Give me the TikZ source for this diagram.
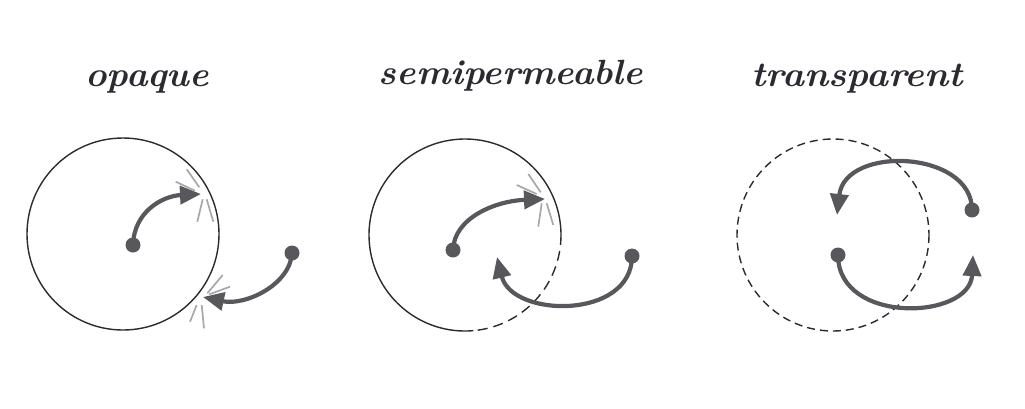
\documentclass[tikz,border=0pt]{standalone}
\usepackage{graphicx}
\usetikzlibrary{arrows.meta}
\definecolor{ink}{HTML}{2A2A30}
\definecolor{arrowgray}{HTML}{58585C}
\definecolor{raygray}{HTML}{A8A8AC}
\tikzset{
  title/.style={anchor=base, text=ink, font=\fontsize{35}{40}\selectfont\bfseries\itshape, inner sep=0pt},
  ring/.style={draw=ink, line width=1.4pt},
  dashring/.style={draw=ink, line width=1.4pt, dash pattern=on 8pt off 5pt},
  flow/.style={draw=arrowgray, line width=4.2pt, -{Triangle[length=21pt,width=18pt]}},
  dot/.style={circle, fill=arrowgray, minimum size=15pt, inner sep=0pt},
  ray/.style={draw=raygray, line width=1.7pt},
}
\begin{document}
\begin{tikzpicture}[x=1pt,y=-1pt]
\useasboundingbox (0,0) rectangle (1025,408);
% titles
\node[title] (t1) at (147,86) {\scalebox{1.04}[1]{opaque}};
\node[title] (t2) at (511,84) {\scalebox{1.04}[1]{semipermeable}};
\node[title] (t3) at (857,86) {\scalebox{1.06}[1]{transparent}};

% ---------- opaque ----------
\draw[ring] (123,234) circle[radius=96];
\node[dot] (a1) at (133,245) {};
\coordinate (ta1) at (201,194);
\draw[flow] (a1.center) .. controls (134,212) and (162,196) .. (ta1);
\draw[ray] (175.7,181.7) -- (195,190.7);
\draw[ray] (186.7,169.3) -- (199.3,187.3);
\draw[ray] (202.7,199.3) -- (197.3,221.7);
\draw[ray] (206.7,199.3) -- (213.3,221.7);
\node[dot] (b1) at (292,253) {};
\coordinate (tb1) at (203,297);
\draw[flow] (b1.center) .. controls (290,285) and (245,306) .. (tb1);
\draw[ray] (222.7,275) -- (207.3,293.3);
\draw[ray] (230,286.7) -- (209.3,294.3);
\draw[ray] (196.7,305) -- (190,321.7);
\draw[ray] (201.7,305) -- (204,328.3);

% ---------- semipermeable ----------
\draw[ring] (465,235) ++(85:96) arc[start angle=85, end angle=360, radius=96];
\draw[dashring, dash pattern=on 10pt off 6pt] (465,235) ++(0:96) arc[start angle=0, end angle=85, radius=96];
\node[dot] (a2) at (453,250) {};
\coordinate (ta2) at (545,199);
\draw[flow] (a2.center) .. controls (454,218) and (495,201) .. (ta2);
\draw[ray] (528.3,174) -- (540.7,192.3);
\draw[ray] (516.7,185) -- (536.7,194);
\draw[ray] (541.7,203.3) -- (538.3,226.7);
\draw[ray] (546.7,203.3) -- (553.3,225);
\node[dot] (b2) at (632,256) {};
\coordinate (tb2) at (497,257);
\draw[flow] (b2.center) .. controls (632,320) and (512,318) .. (tb2);

% ---------- transparent ----------
\draw[dashring] (833,235) circle[radius=96];
\node[dot] (a3) at (972,210) {};
\coordinate (ta3) at (837,215);
\draw[flow] (a3.center) .. controls (972,150) and (845,145) .. (ta3);
\node[dot] (b3) at (838,255) {};
\coordinate (tb3) at (973,255);
\draw[flow] (b3.center) .. controls (838,325) and (970,320) .. (tb3);
\end{tikzpicture}
\end{document}
